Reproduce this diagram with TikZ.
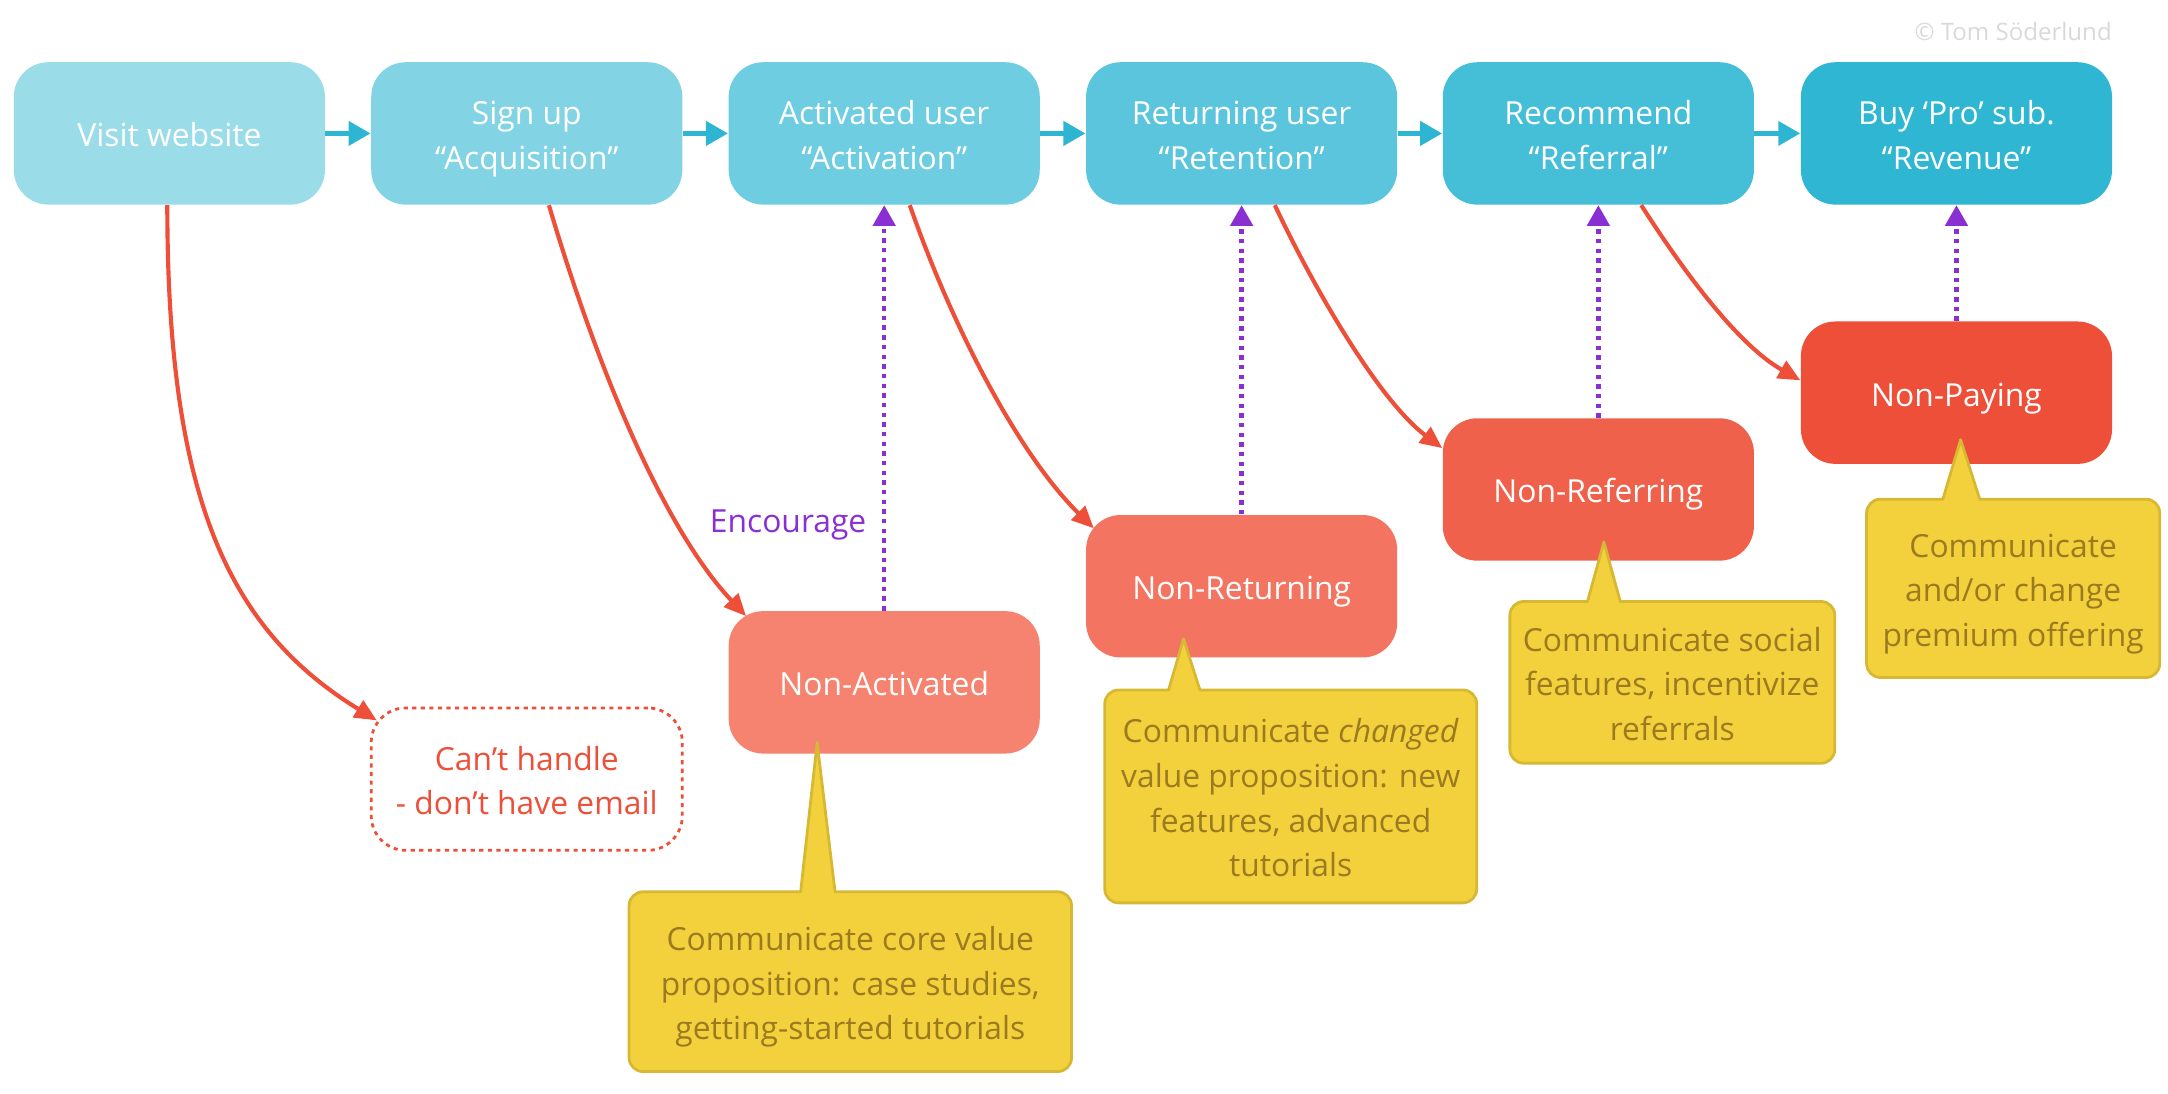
\documentclass[tikz,border=0pt]{standalone}
\usepackage{fontspec}
\setmainfont{Open Sans}
\usetikzlibrary{arrows.meta,calc}
\definecolor{topA}{HTML}{9BDCE9}
\definecolor{topB}{HTML}{82D4E5}
\definecolor{topC}{HTML}{6ECDE0}
\definecolor{topD}{HTML}{5AC5DC}
\definecolor{topE}{HTML}{45BED8}
\definecolor{topF}{HTML}{2EB6D3}
\definecolor{cyanline}{HTML}{2DB5D2}
\definecolor{redA}{HTML}{F5836F}
\definecolor{redB}{HTML}{F37461}
\definecolor{redC}{HTML}{F0614B}
\definecolor{redD}{HTML}{EE4F38}
\definecolor{redline}{HTML}{EE4F38}
\definecolor{purp}{HTML}{8A2FD2}
\definecolor{yfill}{HTML}{F3D13C}
\definecolor{yborder}{HTML}{D7B833}
\definecolor{ytext}{HTML}{9B7A20}
\definecolor{copy}{HTML}{D9D9D9}
\newcommand\mytopstrut{\rule{0pt}{12.7pt}}
\newcommand\mybotstrut{\rule[-3pt]{0pt}{3pt}}
\begin{document}
\begin{tikzpicture}[x=0.5pt,y=-0.5pt,
  txt/.style={font=\fontsize{11.5}{16.15}\selectfont},
  struts/.style={execute at begin node=\mytopstrut, execute at end node=\mybotstrut},
  stage/.style={rectangle, rounded corners=12.5pt, minimum width=112.5pt, minimum height=51.5pt,
    inner sep=0pt, align=center, text=white, txt, struts},
  callout/.style={rectangle, rounded corners=5pt, fill=yfill, draw=yborder, line width=1pt,
    inner sep=0pt, align=center, text=ytext, txt, struts},
  cyanarrow/.style={draw=cyanline, line width=2pt, -{Triangle[length=8pt,width=8.5pt]}},
  redarrow/.style={draw=redline, line width=1.5pt, -{Triangle[length=8pt,width=7pt]}},
  encarrow/.style={draw=purp, line width=1.6pt, dash pattern=on 1.6pt off 1.9pt,
    -{Triangle[length=7.5pt,width=8pt]}},
  pointer/.style={fill=yfill},
  pointeredge/.style={draw=yborder, line width=1pt, line join=round}
]
\useasboundingbox (0,0) rectangle (1568,791);

% copyright
\node[font=\fontsize{8.7}{10}\selectfont, text=copy] (cr) at (1456,22.5) {© Tom Söderlund};

% top stages
\node[stage, fill=topA] (vw) at (122.5,96.5) {Visit website};
\node[stage, fill=topB] (su) at (381,96.5) {\mytopstrut Sign up\\“Acquisition”};
\node[stage, fill=topC] (au) at (639.5,96.5) {\mytopstrut Activated user\\“Activation”};
\node[stage, fill=topD] (ru) at (898,96.5) {\mytopstrut Returning user\\“Retention”};
\node[stage, fill=topE] (rc) at (1156,96.5) {\mytopstrut Recommend\\“Referral”};
\node[stage, fill=topF] (bp) at (1415,96.5) {\mytopstrut Buy ‘Pro’ sub.\\“Revenue”};

\draw[cyanarrow] (vw.east) -- (su.west);
\draw[cyanarrow] (su.east) -- (au.west);
\draw[cyanarrow] (au.east) -- (ru.west);
\draw[cyanarrow] (ru.east) -- (rc.west);
\draw[cyanarrow] (rc.east) -- (bp.west);

% lower states
\node[stage, fill=redA] (na) at (639.5,493.5) {Non-Activated};
\node[stage, fill=redB] (nr) at (898,424) {Non-Returning};
\node[stage, fill=redC] (nf) at (1156,354) {Non-Referring};
\node[stage, fill=redD] (np) at (1415,284) {Non-Paying};
\node[stage, fill=white, draw=redline, line width=1pt, dash pattern=on 1.5pt off 1.6pt, text=redline]
  (ch) at (381,563.5) {\mytopstrut Can’t handle\\- don’t have email};

% red drop-off arrows
\draw[redarrow] ($(vw.south)+(-1.5,0)$) .. controls (121,360) and (165,455) .. ($(ch.north west)+(5,10)$);
\draw[redarrow] ($(su.south)+(16,0)$) .. controls (430,260) and (478,380) .. ($(na.north west)+(13,4)$);
\draw[redarrow] ($(au.south)+(18.5,0)$) .. controls (690,240) and (738,330) .. ($(nr.north west)+(6,10)$);
\draw[redarrow] ($(ru.south)+(24,0)$) .. controls (952,212) and (998,290) .. ($(nf.north west)+(0,22)$);
\draw[redarrow] ($(rc.south)+(31,0)$) .. controls (1220,200) and (1258,250) .. ($(np.north west)+(0,43)$);

% purple encourage arrows
\draw[encarrow] (na.north) -- (au.south);
\draw[encarrow] (nr.north) -- (ru.south);
\draw[encarrow] (nf.north) -- (rc.south);
\draw[encarrow] (np.north) -- (bp.south);
\node[txt, text=purp] (enc) at (570,380) {Encourage};

% callouts
\node[callout, minimum width=160pt, minimum height=65pt] (c1) at (615,710)
  {\mytopstrut Communicate core value\\proposition: case studies,\\getting-started tutorials};
\node[callout, minimum width=134.5pt, minimum height=77pt] (c2) at (933.5,576)
  {\mytopstrut Communicate \textit{changed}\\value proposition: new\\features, advanced\\tutorials};
\node[callout, minimum width=117.5pt, minimum height=58.5pt] (c3) at (1209.5,493.5)
  {\mytopstrut Communicate social\\features, incentivize\\referrals};
\node[callout, minimum width=106pt, minimum height=64.5pt] (c4) at (1456,425.5)
  {\mytopstrut Communicate\\and/or change\\premium offering};

% pointers
\fill[pointer] (579,648) -- (591,537) -- (604,648) -- cycle;
\draw[pointeredge] (579,645.5) -- (591,537) -- (604,645.5);
\fill[pointer] (845,502) -- (856,462) -- (868,502) -- cycle;
\draw[pointeredge] (845,499.5) -- (856,462) -- (868,499.5);
\fill[pointer] (1148,438) -- (1160,392) -- (1172,438) -- cycle;
\draw[pointeredge] (1148,435.5) -- (1160,392) -- (1172,435.5);
\fill[pointer] (1405,364) -- (1418,318) -- (1432,364) -- cycle;
\draw[pointeredge] (1405,361.5) -- (1418,318) -- (1432,361.5);
\end{tikzpicture}
\end{document}
